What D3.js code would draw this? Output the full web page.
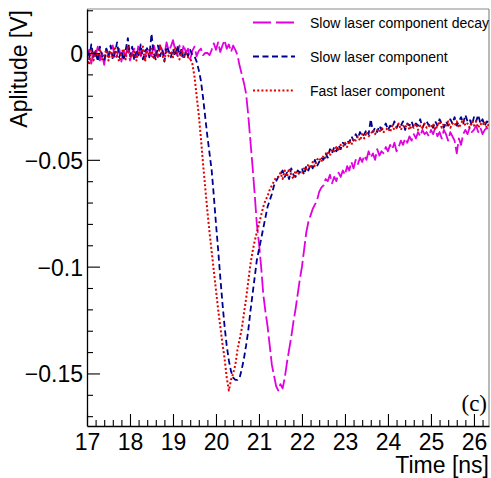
<!DOCTYPE html>
<html><head><meta charset="utf-8">
<script src="https://cdn.jsdelivr.net/npm/d3@7/dist/d3.min.js"></script>
<style>body{margin:0;background:#fff}svg{display:block}</style>
</head><body><svg id="chart" width="491" height="478"></svg>
<script>
// sampling grid: 17.00 ns, step 0.05 ns, 188 samples (values in mV)
const tStart = 17, tStep = 0.05;
const fastMV = [
 -2,-5.5,1.5,-3.5,1,-1.5,2,-3,-1,1.5,
 -3.5,1,-2,3,-1.5,-4,0,2,-3,3.5,
 -1,-2,1.5,-3.5,1,-1.5,3,-4,1,-1,
 2,-3,0,-2,3.5,-1,-3.5,1.5,-1.5,1,
 -2,3,-1,-3,1.5,-1.5,0,-2,-2.5,-5,
 -11,-20,-29,-40,-52,-63,-74,-84,-93,-102,
 -111,-120,-128,-136,-143,-152,-158,-153,-150,-146,
 -139,-134,-129,-122,-115,-107,-99,-93,-88,-84,
 -80,-76,-72,-69,-67,-64,-62,-60,-58,-58,
 -56,-59,-55,-58,-54,-57,-59,-55,-57,-56,
 -56,-54,-55,-52,-54,-51,-53,-50,-49,-51,
 -48,-49,-46,-48,-45,-46,-44,-46,-43,-44,
 -42,-44,-41,-43,-40,-41,-39,-41,-38,-40,
 -37,-39,-38,-36,-38,-36,-37,-35,-37,-36,
 -35,-37,-34,-36,-35,-33,-36,-34,-35,-33,
 -36,-34,-35,-33,-36,-34,-35,-33,-35,-34,
 -35,-33,-36,-34,-32,-35,-33,-34,-32,-35,
 -33,-34,-32,-35,-33,-31,-34,-33,-35,-32,
 -34,-32,-35,-33,-34,-32,-35,-33
];
const slowMV = [
 1.5,-3,4,-2,1,-4,3,-1.5,-3.5,2,
 -1.5,3.5,-3,0,5,-2,1,-3.5,1.5,7,
 -1.5,3,-3.5,1.5,-1,4,-3,1,2,-2,
 9,0,-3,3.5,-1.5,1.5,-4,3,1,-2,
 2,-1.5,3.5,-1,2,-3,1,-1.5,1.5,-1,
 -1.5,-4,-8,-13,-21,-30,-39,-47,-55,-67,
 -80,-92,-105,-117,-128,-137,-144,-149,-152,-153,
 -153,-152,-148,-143,-137,-130,-121,-113,-105,-97,
 -92,-87,-82,-77,-72,-69,-66,-62,-60,-58,
 -57,-55,-58,-56,-59,-54,-57,-58,-55,-56,
 -54,-57,-53,-55,-52,-54,-50,-53,-51,-49,
 -50,-47,-49,-45,-47,-44,-46,-43,-45,-42,
 -43,-41,-42,-39,-41,-38,-40,-37,-39,-38,
 -36,-38,-31,-37,-35,-37,-34,-36,-35,-33,
 -36,-34,-35,-32,-35,-33,-34,-32,-36,-33,
 -34,-32,-35,-33,-34,-31,-35,-33,-32,-34,
 -33,-35,-32,-34,-31,-33,-35,-32,-34,-31,
 -33,-30,-34,-32,-30,-33,-29,-32,-31,-34,
 -30,-32,-29,-33,-31,-34,-32,-33
];
const decayMV = [
 -3,1.5,-5,1,-1.5,3,-3.5,0,-5.5,2,
 -2,1,3.5,-3,-1,2,-4,1,-1.5,3,
 -3.5,0,2,-2,4,-1.5,1,-3,3,1,
 -1.5,4,0,-2,3.5,1.5,-1,5,1,3,
 6,1.5,-1,3.5,-1.5,4,0,2,-3,1,
 3,-1.5,1,2,-1,0,0,-1,1.5,4.5,
 1.5,5,0.5,3.5,6,2,4,0.5,3.5,1.5,
 -1,-6,-10,-14,-19,-29,-41,-53,-66,-80,
 -89,-100,-113,-121,-128,-137,-146,-151,-156,-158,
 -155,-157,-152,-145,-139,-133,-126,-120,-113,-106,
 -100,-92,-84,-79,-76,-73,-71,-69,-65,-63,
 -62,-59,-60,-57,-61,-58,-60,-56,-58,-55,
 -57,-53,-55,-51,-54,-50,-52,-49,-51,-48,
 -50,-46,-49,-47,-50,-45,-48,-46,-47,-44,
 -46,-43,-45,-42,-46,-44,-41,-43,-40,-42,
 -39,-41,-38,-40,-37,-39,-36,-38,-37,-39,
 -36,-38,-35,-39,-37,-40,-36,-38,-41,-37,
 -39,-41,-47,-40,-43,-38,-36,-38,-35,-37,
 -36,-34,-37,-35,-38,-36,-35,-37
];
const seriesNames = ["Slow laser component decay", "Slow laser component", "Fast laser component"];
const seriesColors = ["#e000e0", "#00008f", "#e00000"];
const xTickValues = [17, 18, 19, 20, 21, 22, 23, 24, 25, 26];
const yTickValues = [-0.15, -0.1, -0.05, 0];
const yTickLabels = ["\u22120.15", "\u22120.1", "\u22120.05", "0"];

const L = 87, R = 489, T = 9, B = 426;
const svg = d3.select("#chart");
const font = "'Liberation Sans', Arial, Helvetica, sans-serif";

const x = d3.scaleLinear().domain([17, 26.35]).range([L, R]);
const y = d3.scaleLinear().domain([-0.1746, 0.0206]).range([B, T]);

// frame (top & right grey)
svg.append("line").attr("x1", L).attr("x2", R).attr("y1", T).attr("y2", T).attr("stroke", "#8a8a8a").attr("stroke-width", 1.2);
svg.append("line").attr("x1", R).attr("x2", R).attr("y1", T).attr("y2", B).attr("stroke", "#8a8a8a").attr("stroke-width", 1.2);

svg.append("clipPath").attr("id", "clip").append("rect")
  .attr("x", L).attr("y", T).attr("width", R - L).attr("height", B - T);

const times = fastMV.map((_, i) => tStart + i * tStep);
const line = d3.line().x((d, i) => x(times[i])).y(d => y(d / 1000));
const seriesData = [decayMV, slowMV, fastMV];
const dashes = ["16,4", "6,3.5", "2,2.2"];
const widths = [1.8, 1.8, 2];
const g = svg.append("g").attr("clip-path", "url(#clip)");
seriesData.forEach((s, k) => {
  g.append("path").attr("d", line(s)).attr("fill", "none")
    .attr("stroke", seriesColors[k]).attr("stroke-width", widths[k])
    .attr("stroke-dasharray", dashes[k]).attr("stroke-linejoin", "round");
});

// axes
const xMinor = d3.range(17, 26.36, 0.2).filter(v => Math.abs(v - Math.round(v)) > 1e-6);
const yMinor = d3.range(-0.17, 0.021, 0.01).filter(v => Math.abs(v / 0.05 - Math.round(v / 0.05)) > 1e-6);

svg.append("g").attr("transform", `translate(0,${B})`)
  .call(d3.axisBottom(x).tickValues(xTickValues).tickSizeInner(-12).tickSizeOuter(0).tickPadding(8).tickFormat(d3.format("d")));
svg.append("g").attr("transform", `translate(0,${B})`)
  .call(d3.axisBottom(x).tickValues(xMinor).tickSizeInner(-6).tickSizeOuter(0).tickFormat(""))
  .select(".domain").remove();

const yAxis = svg.append("g").attr("transform", `translate(${L},0)`)
  .call(d3.axisLeft(y).tickValues(yTickValues).tickSizeInner(-13).tickSizeOuter(0).tickPadding(4)
    .tickFormat((d, i) => yTickLabels[i]));
svg.append("g").attr("transform", `translate(${L},0)`)
  .call(d3.axisLeft(y).tickValues(yMinor).tickSizeInner(-6).tickSizeOuter(0).tickFormat(""))
  .select(".domain").remove();

svg.selectAll(".domain").attr("stroke", "#000").attr("stroke-width", 1.3);
svg.selectAll(".tick line").attr("stroke", "#000").attr("stroke-width", 1.1);
svg.selectAll(".tick text").attr("font-family", font).attr("font-size", 23).attr("fill", "#000");
yAxis.selectAll(".tick text").attr("dy", "0.37em");

// axis titles
svg.append("text").attr("x", R).attr("y", 473).attr("text-anchor", "end")
  .attr("font-family", font).attr("font-size", 23).text("Time [ns]");
svg.append("text").attr("transform", "translate(27,10) rotate(-90)").attr("text-anchor", "end")
  .attr("font-family", font).attr("font-size", 23).text("Aplitude [V]");

// panel tag
svg.append("text").attr("x", 487).attr("y", 411).attr("text-anchor", "end")
  .attr("font-family", "'Liberation Serif', 'Times New Roman', serif").attr("font-size", 23).text("(c)");

// legend
const legY = [22.5, 56.5, 90.5];
seriesNames.forEach((name, k) => {
  svg.append("line").attr("x1", 253).attr("x2", 295).attr("y1", legY[k]).attr("y2", legY[k])
    .attr("stroke", seriesColors[k]).attr("stroke-width", 1.8).attr("stroke-dasharray", k === 0 ? "18,5" : dashes[k]);
  svg.append("text").attr("x", 310).attr("y", legY[k] + 5).attr("font-family", font)
    .attr("font-size", 14).attr("fill", "#000").text(name);
});
</script></body></html>
